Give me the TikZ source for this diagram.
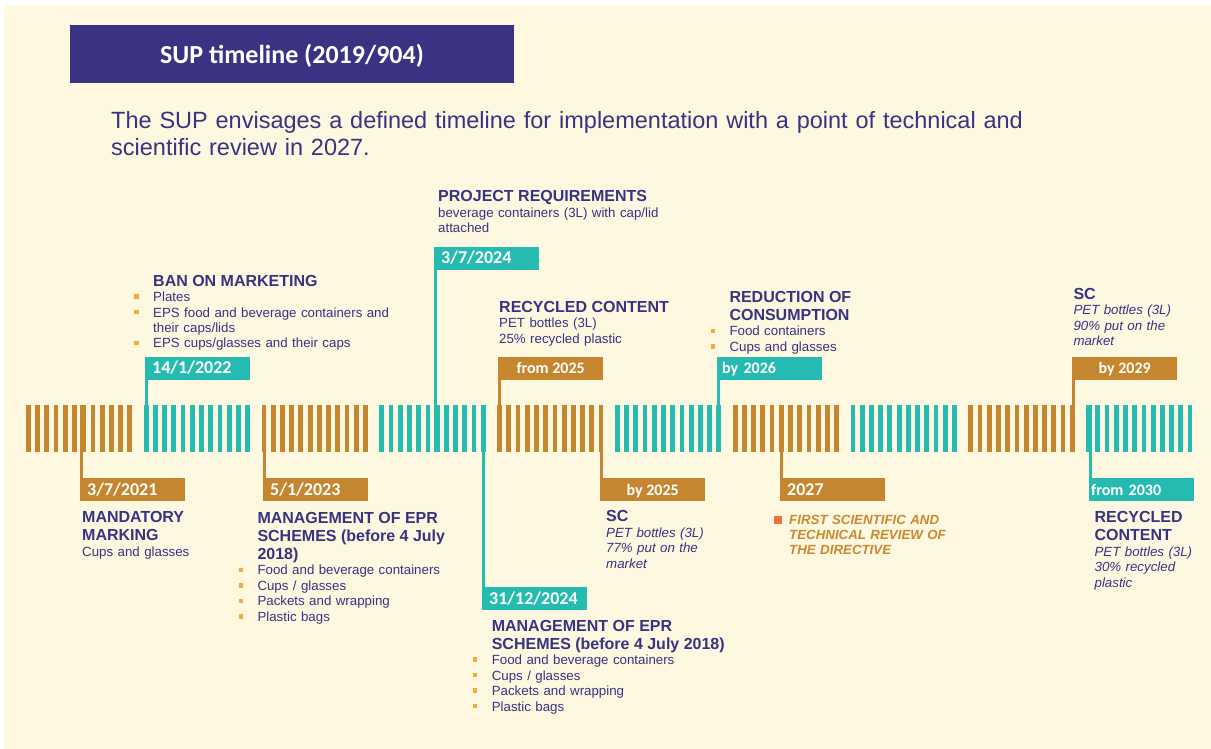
\documentclass[tikz,border=0pt]{standalone}
\usepackage{fontspec}
\setmainfont{Liberation Sans}
\newfontfamily\tagfont{Carlito}
\usepackage{tikz}

\definecolor{cream}{HTML}{FEF8E1}
\definecolor{suppurple}{HTML}{3A3282}
\definecolor{suporange}{HTML}{C5862F}
\definecolor{supteal}{HTML}{26BBB0}
\definecolor{bulletorange}{HTML}{F7A941}
\definecolor{reviewred}{HTML}{EE7040}
\definecolor{reviewgold}{HTML}{C98A2E}

% heading line and bullet of the text blocks
\newcommand{\hd}[1]{{\fontsize{16}{18}\selectfont\bfseries #1}}
\newcommand{\bul}{\leavevmode\llap{\textcolor{bulletorange}{\rule[2.7pt]{4.5pt}{4.5pt}}\hspace{14.5pt}}}

\tikzset{
  tag/.style={inner ysep=0pt, minimum height=23pt, text height=11pt, text depth=0pt,
    text=white, font=\tagfont\bfseries\fontsize{16}{18}\selectfont},
  centertag/.style={tag, inner xsep=0pt, minimum width=105pt},
  lefttag/.style={tag, inner xsep=7pt, text width=91pt, align=left},
  datetag/.style={lefttag, font=\tagfont\bfseries\fontsize{18}{20}\selectfont},
  leader/.style={line width=3pt},
  infotext/.style={anchor=base west, inner sep=0pt, text width=260pt, align=left, text=suppurple,
    font=\fontsize{13.3}{15.5}\selectfont}
}

\begin{document}
\begin{tikzpicture}[x=1pt,y=-1pt]
    % Draw the background
    \fill[white] (0,0) rectangle (1211,749);
    \useasboundingbox (0,0) rectangle (1211,749);
    \fill[cream] (4,5) rectangle (1211,749);

    % Draw the title and the subtitle
    \node[fill=suppurple, minimum width=444pt, minimum height=57.7pt, inner sep=0pt,
      text height=18.9pt, text depth=0pt, text=white,
      font=\tagfont\bfseries\fontsize{26}{28}\selectfont] (title) at (292,53.85) {SUP timeline (2019/904)};
    \node[anchor=base west, inner sep=0pt, text width=1000pt, align=left, text=suppurple,
      font=\fontsize{23.5}{27}\selectfont] (subtitle) at (111,128.3)
      {The SUP envisages a defined timeline for implementation with a point of technical and\\
       scientific review in 2027.};

    % Draw the striped time bar
    \foreach \i/\col in {0/suporange,1/supteal,2/suporange,3/supteal,4/suporange,
                         5/supteal,6/suporange,7/supteal,8/suporange,9/supteal} {
      \pgfmathsetmacro{\sx}{26+117.8*\i}
      \foreach \j in {0,...,11}
        \fill[\col] (\sx+9.22*\j,405) rectangle ++(4.8,47);
    }

    % Date tags above the bar
    \node[datetag, fill=supteal, anchor=south west] (t2022) at (145,380) {14/1/2022};
    \node[datetag, fill=supteal, anchor=south west] (t2024a) at (434,270) {3/7/2024};
    \node[centertag, fill=suporange, anchor=south west] (t2025a) at (498,380) {from 2025};
    \node[lefttag, inner xsep=5pt, text width=95pt, fill=supteal, anchor=south west] (t2026) at (717,380) {by 2026};
    \node[centertag, fill=suporange, anchor=south west] (t2029) at (1072,380) {by 2029};

    % Date tags below the bar
    \node[datetag, fill=suporange, anchor=north west] (t2021) at (80,478) {3/7/2021};
    \node[datetag, fill=suporange, anchor=north west] (t2023) at (263,478) {5/1/2023};
    \node[datetag, fill=supteal, anchor=north west] (t2024b) at (482,587) {31/12/2024};
    \node[centertag, fill=suporange, anchor=north west] (t2025b) at (600,478) {by 2025};
    \node[datetag, fill=suporange, anchor=north west] (t2027) at (780,478) {2027};
    \node[lefttag, inner xsep=2pt, text width=101pt, fill=supteal, anchor=north west] (t2030) at (1089,478) {from 2030};

    % Draw the leaders from the bar to the tags
    \coordinate (c2022) at (146.5,452);
    \coordinate (c2024a) at (435.5,452);
    \coordinate (c2025a) at (499.5,452);
    \coordinate (c2026) at (718.5,452);
    \coordinate (c2029) at (1073.5,452);
    \coordinate (c2021) at (81.5,405);
    \coordinate (c2023) at (264.5,405);
    \coordinate (c2024b) at (483.5,405);
    \coordinate (c2025b) at (601.5,405);
    \coordinate (c2027) at (781.5,405);
    \coordinate (c2030) at (1090.5,405);
    \draw[leader, supteal] (c2022) -- (c2022 |- t2022.south);
    \draw[leader, supteal] (c2024a) -- (c2024a |- t2024a.south);
    \draw[leader, suporange] (c2025a) -- (c2025a |- t2025a.south);
    \draw[leader, supteal] (c2026) -- (c2026 |- t2026.south);
    \draw[leader, suporange] (c2029) -- (c2029 |- t2029.south);
    \draw[leader, suporange] (c2021) -- (c2021 |- t2021.north);
    \draw[leader, suporange] (c2023) -- (c2023 |- t2023.north);
    \draw[leader, supteal] (c2024b) -- (c2024b |- t2024b.north);
    \draw[leader, suporange] (c2025b) -- (c2025b |- t2025b.north);
    \draw[leader, suporange] (c2027) -- (c2027 |- t2027.north);
    \draw[leader, supteal] (c2030) -- (c2030 |- t2030.north);

    % Text blocks above the bar
    \node[infotext] (ban) at (153,286) {\hd{BAN ON MARKETING}\\
      \bul Plates\\
      \bul EPS food and beverage containers and\\
      their caps/lids\\
      \bul EPS cups/glasses and their caps};
    \node[infotext] (project) at (438,201.7) {\hd{PROJECT REQUIREMENTS}\\
      beverage containers (3L) with cap/lid\\
      attached};
    \node[infotext] (recycled1) at (499,312.3) {\hd{RECYCLED CONTENT}\\
      PET bottles (3L)\\
      25\% recycled plastic};
    \node[infotext] (reduction) at (729.3,302.3) {\hd{REDUCTION OF}\\[2.5pt]
      \hd{CONSUMPTION}\\
      \bul Food containers\\
      \bul Cups and glasses};
    \node[infotext] (sc2) at (1073.3,299) {\hd{SC}\\
      \itshape PET bottles (3L)\\
      90\% put on the\\
      market};

    % Text blocks below the bar
    \node[infotext] (marking) at (82,522.7) {\hd{MANDATORY}\\[2.5pt]
      \hd{MARKING}\\
      Cups and glasses};
    \node[infotext] (epr1) at (257.3,523.3) {\hd{MANAGEMENT OF EPR}\\[2.5pt]
      \hd{SCHEMES (before 4 July}\\[2.5pt]
      \hd{2018)}\\
      \bul Food and beverage containers\\
      \bul Cups / glasses\\
      \bul Packets and wrapping\\
      \bul Plastic bags};
    \node[infotext] (sc1) at (606,521.7) {\hd{SC}\\
      \itshape PET bottles (3L)\\
      77\% put on the\\
      market};
    \node[infotext, text=reviewgold, font=\fontsize{13.3}{15}\selectfont\bfseries\itshape] (review) at (789,524)
      {\leavevmode\llap{\textcolor{reviewred}{\rule{8pt}{8pt}}\hspace{7pt}}FIRST SCIENTIFIC AND\\
      TECHNICAL REVIEW OF\\
      THE DIRECTIVE};
    \node[infotext] (recycled2) at (1094.4,522.7) {\hd{RECYCLED}\\[2.5pt]
      \hd{CONTENT}\\
      \itshape PET bottles (3L)\\
      30\% recycled\\
      plastic};
    \node[infotext] (epr2) at (491.6,631) {\hd{MANAGEMENT OF EPR}\\[2.5pt]
      \hd{SCHEMES (before 4 July 2018)}\\
      \bul Food and beverage containers\\
      \bul Cups / glasses\\
      \bul Packets and wrapping\\
      \bul Plastic bags};
\end{tikzpicture}
\end{document}
